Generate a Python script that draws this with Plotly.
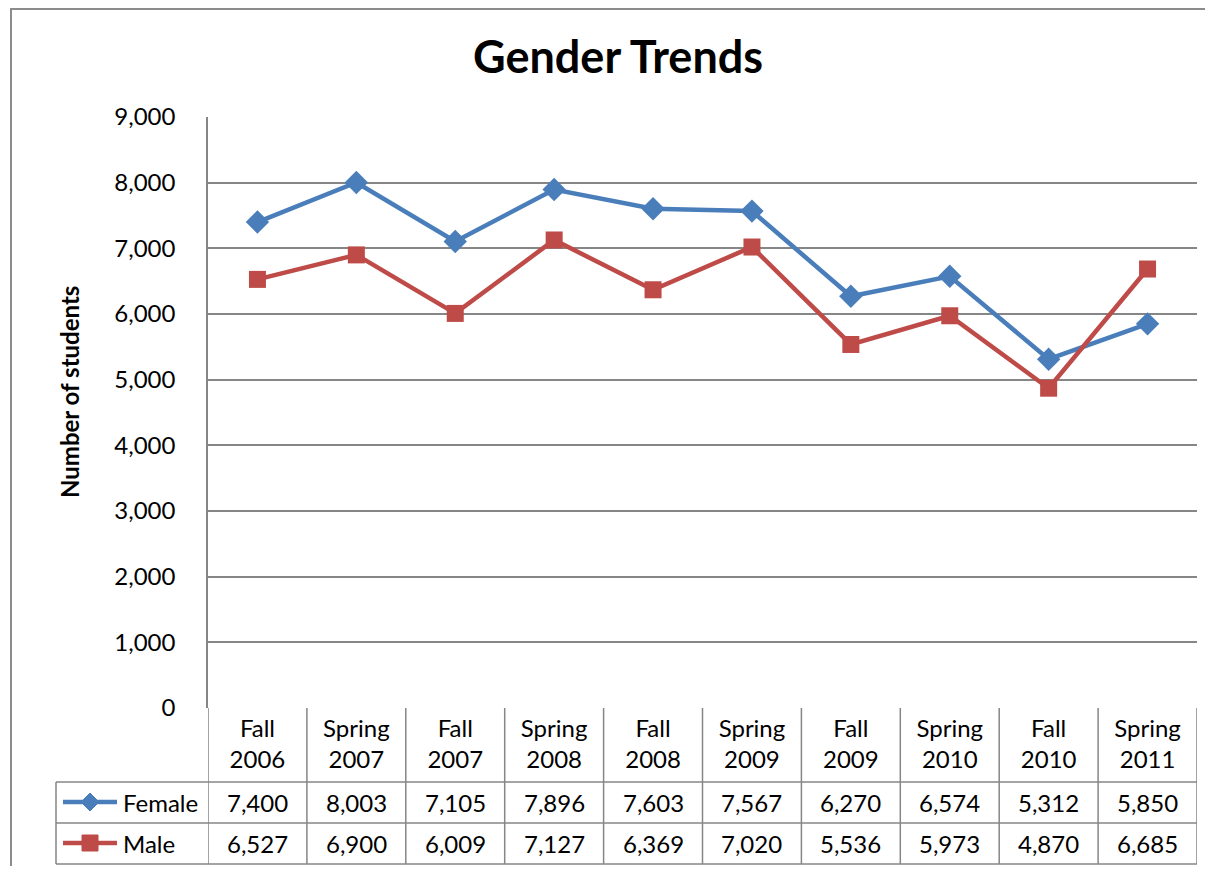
import plotly.graph_objects as go

# data
terms = ["Fall 2006", "Spring 2007", "Fall 2007", "Spring 2008", "Fall 2008",
         "Spring 2009", "Fall 2009", "Spring 2010", "Fall 2010", "Spring 2011"]
female = [7400, 8003, 7105, 7896, 7603, 7567, 6270, 6574, 5312, 5850]
male = [6527, 6900, 6009, 7127, 6369, 7020, 5536, 5973, 4870, 6685]

# page has an 8px body margin, so the figure is a bit smaller than the window
OFF = 8
W, H = 1213 - 2 * OFF, 874 - 2 * OFF
FONT = "Lato"
BLUE = "#4A7EBB"
RED = "#BE4B48"
GRID = "#868686"


def px(x):
    # window pixel -> paper x
    return (x - OFF) / W


def py(y):
    # window pixel -> paper y
    return 1 - (y - OFF) / H


x_idx = list(range(len(terms)))
tick_text = ["<br>".join(t.split(" ")) for t in terms]

fig = go.Figure()
fig.add_trace(go.Scatter(
    x=x_idx, y=female, name="Female", mode="lines+markers",
    line=dict(color=BLUE, width=4.5),
    marker=dict(symbol="diamond", size=18, color=BLUE),
))
fig.add_trace(go.Scatter(
    x=x_idx, y=male, name="Male", mode="lines+markers",
    line=dict(color=RED, width=4.5),
    marker=dict(symbol="square", size=17, color=RED),
))

shapes = []
line_style = dict(color=GRID, width=1.5)
# outer chart border
shapes.append(dict(type="rect", xref="paper", yref="paper",
                   x0=px(11), x1=px(1230), y0=py(9), y1=py(890),
                   line=dict(color="#8C8C8C", width=2)))
# table vertical separators (category boundaries)
for i in range(len(terms) + 1):
    shapes.append(dict(type="line", xref="x", yref="paper",
                       x0=i - 0.5, x1=i - 0.5, y0=py(708), y1=py(864), line=line_style))
# legend column left edge
shapes.append(dict(type="line", xref="paper", yref="paper",
                   x0=px(56), x1=px(56), y0=py(782), y1=py(864), line=line_style))
for yy in (782, 823, 864):
    shapes.append(dict(type="line", xref="paper", yref="paper",
                       x0=px(56), x1=px(1197), y0=py(yy), y1=py(yy), line=line_style))

# legend keys in the table
for yy, col in ((802, BLUE), (843, RED)):
    shapes.append(dict(type="line", xref="paper", yref="paper",
                       x0=px(63), x1=px(117), y0=py(yy), y1=py(yy),
                       line=dict(color=col, width=4.5)))
d = 9
shapes.append(dict(type="path", xref="paper", yref="paper", fillcolor=BLUE,
                   line=dict(color=BLUE, width=1),
                   path=f"M {px(90 - d)} {py(802)} L {px(90)} {py(802 - d)} "
                        f"L {px(90 + d)} {py(802)} L {px(90)} {py(802 + d)} Z"))
s = 8
shapes.append(dict(type="rect", xref="paper", yref="paper", fillcolor=RED,
                   line=dict(color=RED, width=1),
                   x0=px(90 - s), x1=px(90 + s), y0=py(843 - s), y1=py(843 + s)))

annotations = []
annotations.append(dict(text="<b>Gender Trends</b>", xref="paper", yref="paper",
                        x=px(618), y=py(56), xanchor="center", yanchor="middle",
                        showarrow=False,
                        font=dict(family=FONT, size=45, color="black")))
annotations.append(dict(text="<b>Number of students</b>", xref="paper", yref="paper",
                        x=px(70), y=py(392), xanchor="center", yanchor="middle",
                        showarrow=False, textangle=-90,
                        font=dict(family=FONT, size=24, color="black")))
row_font = dict(family=FONT, size=24, color="black")
for i in x_idx:
    annotations.append(dict(text=f"{female[i]:,}", xref="x", yref="paper",
                            x=i, y=py(802), xanchor="center", yanchor="middle",
                            showarrow=False, font=row_font))
    annotations.append(dict(text=f"{male[i]:,}", xref="x", yref="paper",
                            x=i, y=py(843), xanchor="center", yanchor="middle",
                            showarrow=False, font=row_font))
annotations.append(dict(text="Female", xref="paper", yref="paper", x=px(121), y=py(802),
                        xanchor="left", yanchor="middle", showarrow=False, font=row_font))
annotations.append(dict(text="Male", xref="paper", yref="paper", x=px(121), y=py(843),
                        xanchor="left", yanchor="middle", showarrow=False, font=row_font))

fig.update_layout(
    width=W, height=H, autosize=False,
    margin=dict(l=0, r=0, t=0, b=0, pad=0),
    paper_bgcolor="white", plot_bgcolor="white",
    showlegend=False,
    font=dict(family=FONT, color="black"),
    xaxis=dict(
        domain=[px(208), px(1197)], range=[-0.5, len(terms) - 0.5],
        tickvals=x_idx, ticktext=tick_text, showgrid=False, zeroline=False,
        ticks="", ticklabelstandoff=4, tickfont=dict(family=FONT, size=24),
        showline=False, fixedrange=True, automargin=False,
    ),
    yaxis=dict(
        domain=[py(708), py(117)], range=[0, 9000], dtick=1000, tickformat=",",
        showgrid=True, gridcolor=GRID, gridwidth=1.5, zeroline=False,
        showline=True, linecolor=GRID, linewidth=1.5, ticks="",
        ticklabelstandoff=26, tickfont=dict(family=FONT, size=24),
        automargin=False,
    ),
    shapes=shapes,
    annotations=annotations,
)

fig.write_html("out.html")
